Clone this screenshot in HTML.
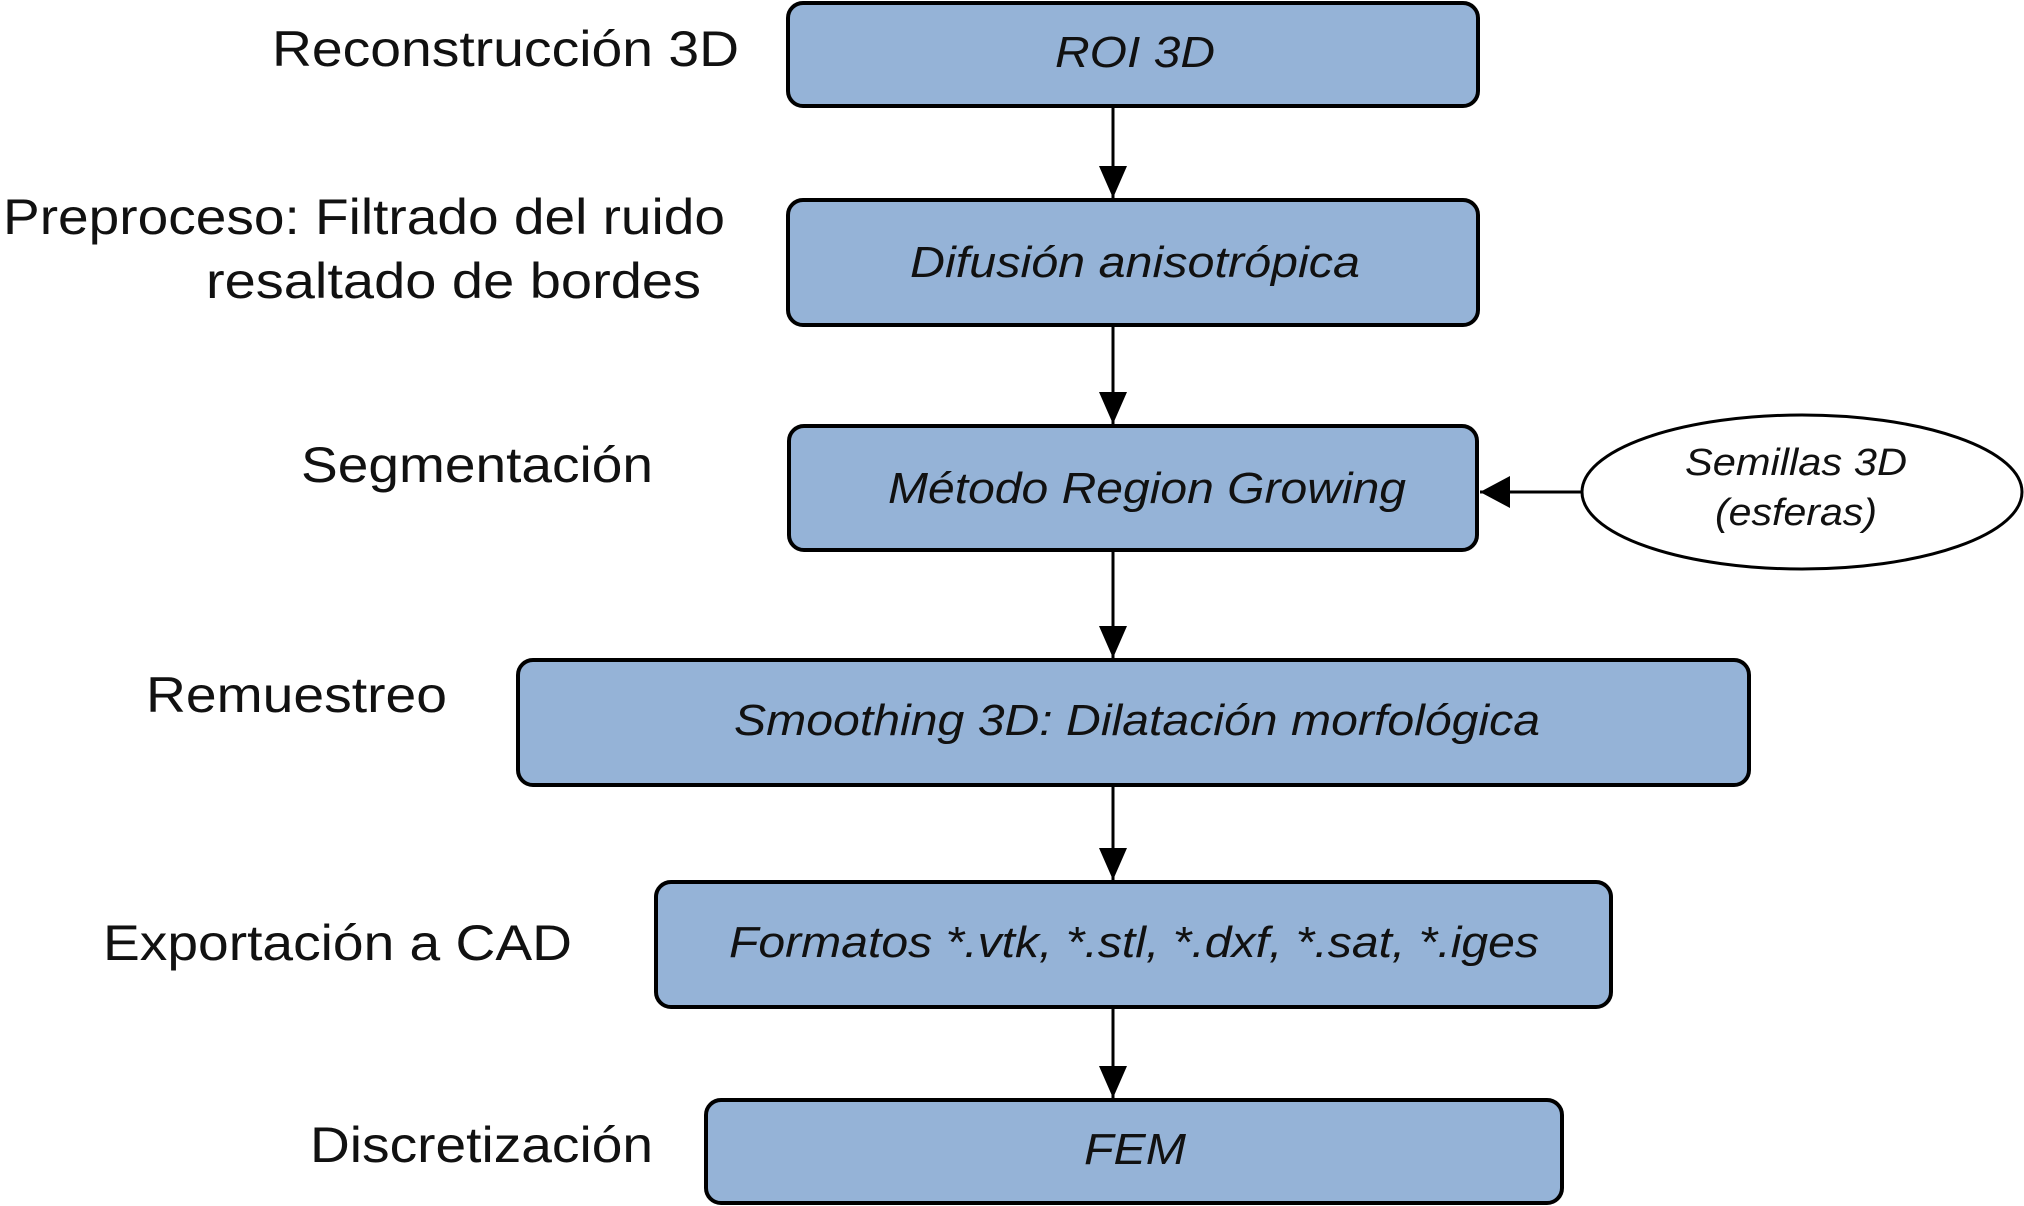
<!DOCTYPE html>
<html><head><meta charset="utf-8"><style>html,body{margin:0;padding:0;background:#fff}svg{display:block}</style></head>
<body>
<svg width="2024" height="1206" viewBox="0 0 2024 1206" xmlns="http://www.w3.org/2000/svg" font-family="Liberation Sans, sans-serif">
<defs><marker id="a" markerWidth="10" markerHeight="10" refX="10" refY="5" orient="auto" markerUnits="userSpaceOnUse" viewBox="0 0 10 10"><path d="M0,0 L10,5 L0,10 z" fill="#000"/></marker></defs>
<g fill="#95b3d7" stroke="#000" stroke-width="4">
<rect x="788" y="3" width="690" height="103" rx="15"/>
<rect x="788" y="200" width="690" height="125" rx="15"/>
<rect x="789" y="426" width="688" height="124" rx="15"/>
<rect x="518" y="660" width="1231" height="125" rx="15"/>
<rect x="656" y="882" width="955" height="125" rx="15"/>
<rect x="706" y="1100" width="856" height="103" rx="15"/>
</g>
<ellipse cx="1802" cy="492" rx="220" ry="77" fill="#fff" stroke="#000" stroke-width="3"/>
<g stroke="#000" stroke-width="3">
<line x1="1113" y1="106" x2="1113" y2="198"/>
<line x1="1113" y1="325" x2="1113" y2="424"/>
<line x1="1113" y1="550" x2="1113" y2="658"/>
<line x1="1113" y1="785" x2="1113" y2="880"/>
<line x1="1113" y1="1007" x2="1113" y2="1098"/>
<line x1="1582" y1="492" x2="1480" y2="492"/>
</g>
<g fill="#000">
<path d="M1099,166 L1127,166 L1113,198 z"/>
<path d="M1099,392 L1127,392 L1113,424 z"/>
<path d="M1099,626 L1127,626 L1113,658 z"/>
<path d="M1099,848 L1127,848 L1113,880 z"/>
<path d="M1099,1066 L1127,1066 L1113,1098 z"/>
<path d="M1480,492 L1510,476 L1510,508 z"/>
</g>
<g font-size="44" font-style="italic" text-anchor="middle" fill="#111">
<text x="1135" y="67" textLength="160" lengthAdjust="spacingAndGlyphs">ROI 3D</text>
<text x="1135" y="277" textLength="450" lengthAdjust="spacingAndGlyphs">Difusión anisotrópica</text>
<text x="1147" y="503" textLength="518" lengthAdjust="spacingAndGlyphs">Método Region Growing</text>
<text x="1137" y="735" textLength="806" lengthAdjust="spacingAndGlyphs">Smoothing 3D: Dilatación morfológica</text>
<text x="1134" y="957" textLength="810" lengthAdjust="spacingAndGlyphs">Formatos *.vtk, *.stl, *.dxf, *.sat, *.iges</text>
<text x="1135" y="1164" textLength="102" lengthAdjust="spacingAndGlyphs">FEM</text>
</g>
<g font-size="38" font-style="italic" text-anchor="middle" fill="#111">
<text x="1796" y="475" textLength="222" lengthAdjust="spacingAndGlyphs">Semillas 3D</text>
<text x="1796" y="525" textLength="162" lengthAdjust="spacingAndGlyphs">(esferas)</text>
</g>
<g font-size="50" fill="#111">
<text x="272" y="66" textLength="467" lengthAdjust="spacingAndGlyphs">Reconstrucción 3D</text>
<text x="3" y="234" textLength="722" lengthAdjust="spacingAndGlyphs">Preproceso: Filtrado del ruido</text>
<text x="206" y="298" textLength="495" lengthAdjust="spacingAndGlyphs">resaltado de  bordes</text>
<text x="301" y="482" textLength="352" lengthAdjust="spacingAndGlyphs">Segmentación</text>
<text x="146" y="712" textLength="301" lengthAdjust="spacingAndGlyphs">Remuestreo</text>
<text x="103" y="960" textLength="469" lengthAdjust="spacingAndGlyphs">Exportación a CAD</text>
<text x="310" y="1162" textLength="343" lengthAdjust="spacingAndGlyphs">Discretización</text>
</g>
</svg>
</body></html>
